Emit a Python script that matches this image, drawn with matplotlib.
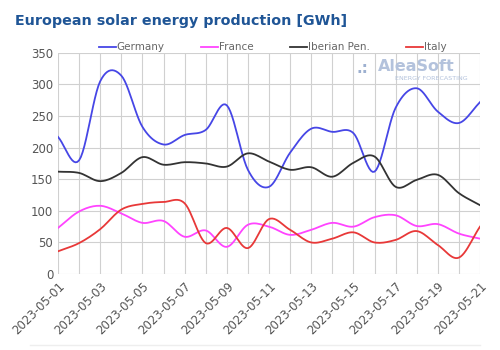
import numpy as np
import pandas as pd
import matplotlib
matplotlib.use("Agg")
import matplotlib.pyplot as plt

dates = pd.date_range("2023-05-01", "2023-05-21", freq="D")
germany = [217, 180, 305, 314, 233, 205, 220, 228, 267, 165, 138,
           192, 230, 225, 223, 162, 263, 294, 257, 239, 272]
france = [73, 99, 108, 96, 81, 84, 59, 69, 43, 78, 75,
          62, 70, 81, 75, 90, 93, 76, 79, 64, 56]
iberian = [162, 160, 147, 160, 185, 173, 177, 175, 170, 191, 178,
           165, 169, 154, 176, 186, 138, 149, 157, 128, 109]
italy = [36, 49, 71, 102, 111, 114, 112, 49, 73, 41, 87,
         70, 50, 56, 66, 50, 54, 68, 46, 26, 75]
tick_labels = [d.strftime("%Y-%m-%d") for d in dates[::2]]


def smooth(x, y, n=12):
    # catmull-rom curve through the daily points
    x = np.asarray(x, float)
    y = np.asarray(y, float)
    xp = np.concatenate([[2 * x[0] - x[1]], x, [2 * x[-1] - x[-2]]])
    yp = np.concatenate([[2 * y[0] - y[1]], y, [2 * y[-1] - y[-2]]])
    xs, ys = [], []
    t = np.linspace(0, 1, n, endpoint=False)
    for i in range(1, len(xp) - 2):
        for arr, out in ((xp, xs), (yp, ys)):
            p0, p1, p2, p3 = arr[i - 1], arr[i], arr[i + 1], arr[i + 2]
            out.extend(0.5 * (2 * p1 + (-p0 + p2) * t
                              + (2 * p0 - 5 * p1 + 4 * p2 - p3) * t ** 2
                              + (-p0 + 3 * p1 - 3 * p2 + p3) * t ** 3))
    xs.append(x[-1])
    ys.append(y[-1])
    return np.array(xs), np.array(ys)


fig = plt.figure(figsize=(5, 3.5), dpi=100)
ax = fig.add_axes([0.116, 0.217, 0.844, 0.632])

x = np.arange(len(dates))
series = [("Germany", germany, "#4646e6"),
          ("France", france, "#ff44ff"),
          ("Iberian Pen.", iberian, "#333333"),
          ("Italy", italy, "#e83838")]
for name, vals, col in series:
    sx, sy = smooth(x, vals)
    ax.plot(sx, sy, color=col, lw=1.3, label=name)

ax.set_xlim(0, len(dates) - 1)
ax.set_ylim(0, 350)
ax.set_yticks(range(0, 351, 50))
ax.set_xticks(x, minor=True)
ax.set_xticks(x[::2])
ax.set_xticklabels(tick_labels, rotation=45, ha="right", rotation_mode="anchor")
ax.grid(True, which="both", color="#d0d0d0", lw=0.8)
ax.set_axisbelow(True)
ax.tick_params(axis="both", which="both", length=0, colors="#555555", labelsize=8.5)
ax.tick_params(axis="x", pad=4)
for s in ax.spines.values():
    s.set_visible(False)

fig.text(0.03, 0.94, "European solar energy production [GWh]", fontsize=10.3,
         fontweight="bold", color="#1f5596", va="center")
fig.legend(loc="center left", bbox_to_anchor=(0.198, 0.865), ncol=4, frameon=False,
           fontsize=7.5, handlelength=1.6, handletextpad=0.1, columnspacing=3.5,
           labelcolor="#666666", borderpad=0, borderaxespad=0)

# watermark
fig.text(0.712, 0.805, ".:", fontsize=11, color="#9db0d0", fontweight="bold", va="center")
fig.text(0.755, 0.81, "AleaSoft", fontsize=11.5, color="#b3c2dc", fontweight="bold", va="center")
fig.text(0.79, 0.775, "ENERGY FORECASTING", fontsize=4.6, color="#b3c2dc", va="center")

fig.add_artist(plt.Line2D([0.06, 0.96], [0.015, 0.015], color="#eeeeee", lw=1))
fig.savefig("out.png", dpi=100)
